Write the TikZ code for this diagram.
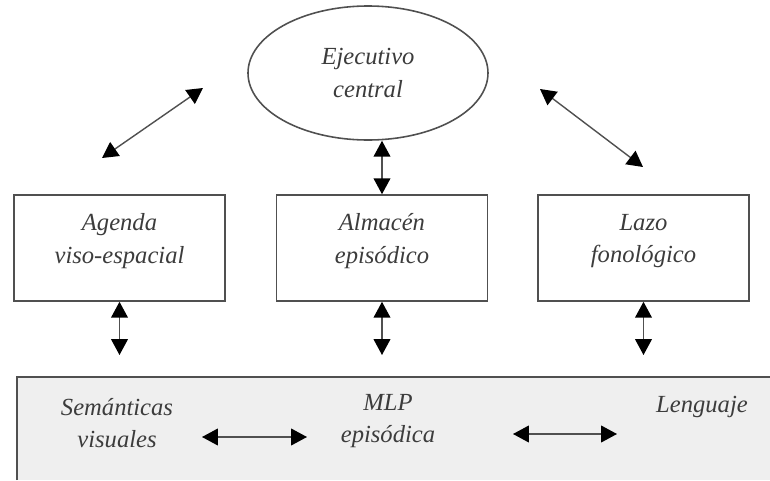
\documentclass[tikz,border=0pt]{standalone}
\usepackage{fontspec}
\setmainfont{Liberation Serif}
\usetikzlibrary{shapes,arrows.meta}
\definecolor{txtgray}{HTML}{3C3C3C}
\definecolor{linegray}{HTML}{505050}
\definecolor{mlpfill}{HTML}{EFEFEF}

\begin{document}
\begin{tikzpicture}
\tikzset{
	modbox/.style={draw=linegray,
		line width=0.9pt,
		shape=rectangle,
		minimum width=4.22cm,
		minimum height=2.12cm
	},
	eje/.style={draw=linegray,
		line width=0.9pt,
		shape=ellipse,
		minimum width=4.8cm,
		minimum height=2.68cm,
		inner sep=0pt,
		align=center,
		font=\fontsize{14}{18.5}\selectfont\itshape,
		text=txtgray
	},
	lbl/.style={align=center, font=\fontsize{14}{18.5}\selectfont\itshape, text=txtgray},
	link/.style={{Triangle[length=9pt,width=9.5pt,color=black]}-{Triangle[length=9pt,width=9.5pt,color=black]},
		line width=0.8pt, draw=linegray}
}
\useasboundingbox (0,0) rectangle (15.4,9.6);
\fill[mlpfill] (0.34,2.06) rectangle (15.4,0);
\draw[draw=linegray, line width=0.9pt] (0.34,0) |- (15.4,2.06);
\node[eje] (EJE) at (7.36,8.14) {Ejecutivo\\central};
\node[modbox] (AGD) at (2.39,4.64) {};
\node[modbox] (ALM) at (7.64,4.64) {};
\node[modbox] (LAZ) at (12.87,4.64) {};
\node[lbl] (AGDT) at (2.39,4.78) {Agenda\\viso-espacial};
\node[lbl] (ALMT) at (7.64,4.78) {Almacén\\episódico};
\node[lbl] (LAZT) at (12.87,4.78) {Lazo\\fonológico};
\node[lbl] (SEM) at (2.34,1.14) {Semánticas\\visuales};
\node[lbl] (MLP) at (7.76,1.18) {MLP\\episódica};
\node[lbl] (LEN) at (14.04,1.46) {Lenguaje};
% free ends of the arrows
\coordinate (AGDL) at (2.04,6.44);
\coordinate (AGDU) at (4.06,7.84);
\coordinate (LAZU) at (10.8,7.82);
\coordinate (LAZL) at (12.86,6.26);
\coordinate (AGDD) at (2.39,2.5);
\coordinate (ALMD) at (7.64,2.5);
\coordinate (LAZD) at (12.87,2.5);
\coordinate (SEMR) at (4.04,0.86);
\coordinate (MLPL) at (6.14,0.86);
\coordinate (MLPR) at (10.26,0.92);
\coordinate (LENL) at (12.34,0.92);
{\draw[link] (AGDL) -- (AGDU);}
{\draw[link] (LAZU) -- (LAZL);}
{\draw[link] (ALM.north) -- (ALM.north |- EJE.south);}
{\draw[link] (AGD.south) -- (AGDD);}
{\draw[link] (ALM.south) -- (ALMD);}
{\draw[link] (LAZ.south) -- (LAZD);}
{\draw[link] (SEMR) -- (MLPL);}
{\draw[link] (MLPR) -- (LENL);}

\end{tikzpicture}
\end{document}
